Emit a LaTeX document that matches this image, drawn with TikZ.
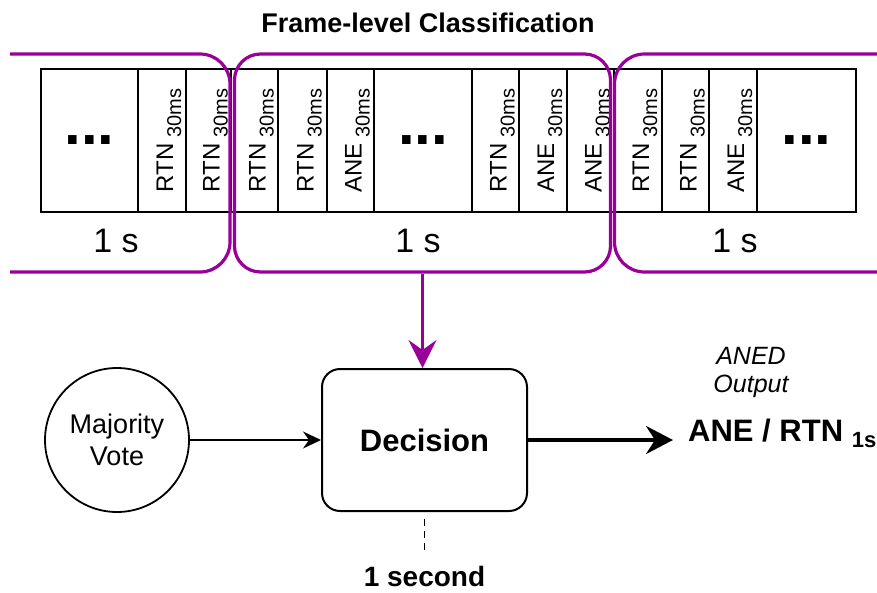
\documentclass[tikz,border=0pt]{standalone}
\usepackage{fontspec}
\setmainfont{Liberation Sans}
\usetikzlibrary{arrows.meta}
\definecolor{framepurple}{RGB}{153,0,153}
\newcommand{\fsize}[1]{\fontsize{#1}{#1}\selectfont}
\newcommand{\lbl}[1]{{\fsize{24}#1}\hspace{6pt}\raisebox{-8pt}{\fsize{20}30ms}}
\tikzset{
  framecell/.style={draw, line width=1.6pt, inner sep=0pt, minimum height=143pt},
  slot/.style={draw, line width=1.6pt, inner sep=0pt, rotate=90, minimum width=143pt,
    text height=22pt, text depth=0pt},
  secwin/.style={draw=framepurple, line width=3.2pt},
  flow/.style={framepurple, line width=3.2pt, -{Stealth[length=28pt,width=28pt,inset=10pt]}},
  thinflow/.style={line width=1.6pt, -{Stealth[length=18pt,width=17pt,inset=6pt]}},
  bigflow/.style={line width=3.5pt, -{Stealth[length=27pt,width=28pt,inset=9pt]}},
}
\begin{document}
\begin{tikzpicture}[x=1pt,y=-1pt]
\useasboundingbox (0,0) rectangle (877,592);
\node[font=\fsize{27}\bfseries] (title) at (428,22.5) {Frame-level Classification};
% 30 ms frames
\foreach \n/\l/\r in {1/41/138,7/374/472,14/757/856}
  \node[framecell, minimum width={\r-\l}] (c\n) at ({(\l+\r)/2},140.5) {\fsize{60}\bfseries ...};
\foreach \n/\l/\r/\t in {2/138/186/RTN,3/186/231/RTN,4/231/278/RTN,5/278/327/RTN,6/327/374/ANE,
    8/472/519/RTN,9/519/567/ANE,10/567/614/ANE,11/614/662/RTN,12/662/709/RTN,13/709/757/ANE}
  \node[slot, minimum height={\r-\l}] (c\n) at ({(\l+\r)/2},140.5) {\lbl{\t}};
% one second windows
\draw[secwin, rounded corners=30pt] (10,54) -- (230,54) -- (230,272) -- (10,272);
\node[secwin, rounded corners=26pt, minimum width=376, minimum height=218, inner sep=0pt] (win) at (422.5,163) {};
\draw[secwin, rounded corners=30pt] (877,54) -- (614.5,54) -- (614.5,272) -- (877,272);
\node[font=\fsize{34}] (s1) at (116,241) {1 s};
\node[font=\fsize{34}] (s2) at (418,241) {1 s};
\node[font=\fsize{34}] (s3) at (735,241) {1 s};
% decision
\node[draw, line width=2pt, rounded corners=18pt, minimum width=205, minimum height=142,
  font=\fsize{31}\bfseries] (dec) at (424.5,440) {Decision};
\node[draw, circle, line width=1.8pt, minimum size=144, inner sep=0pt, align=center,
  font=\fontsize{27}{32}\selectfont] (vote) at (117,440) {Majority\\Vote};
\draw[flow] (win.south) -- (win.south |- dec.north);
\draw[thinflow] (vote) -- (dec);
\coordinate (tip) at (673,440);
\draw[bigflow] (dec) -- (tip);
\node[anchor=base west, inner sep=0pt, font=\fsize{31}\bfseries] (res) at (688,441)
  {ANE / RTN \raisebox{-6pt}{\fsize{22}1s}};
\node[align=center, font=\fontsize{25}{28}\selectfont\itshape] (aned) at (751,372) {ANED\\Output};
\node[inner sep=3pt, font=\fsize{28}\bfseries] (sec) at (424.5,576) {1 second};
\draw[line width=1.6pt, dash pattern=on 7pt off 5pt, shorten <=7pt, shorten >=10pt] (dec) -- (sec);
\end{tikzpicture}
\end{document}
